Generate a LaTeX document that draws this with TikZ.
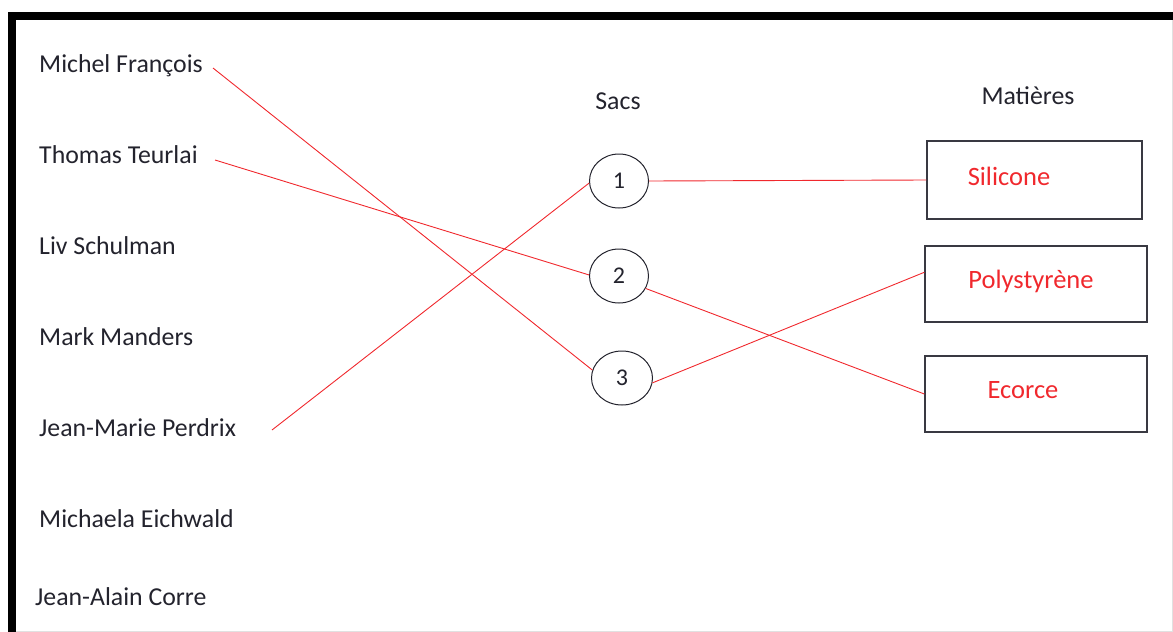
\documentclass[tikz,border=0pt]{standalone}
\usepackage{fontspec}
\setmainfont{Carlito}
\usetikzlibrary{shapes.geometric,calc}
\definecolor{ink}{RGB}{35,35,45}
\definecolor{wire}{RGB}{240,40,45}
\definecolor{edge}{RGB}{225,225,225}
\tikzset{
  artist/.style={anchor=base west,inner sep=0pt,text=ink,font=\fontsize{25.8}{30}\selectfont},
  head/.style={anchor=base,inner sep=0pt,text=ink,font=\fontsize{25.8}{30}\selectfont},
  sac/.style={ellipse,draw=ink,line width=1pt,minimum width=59pt,minimum height=54pt,
    inner sep=0pt,text=ink,font=\fontsize{24}{28}\selectfont},
  matbox/.style={draw=ink!90,line width=1.3pt,minimum width=#1,inner sep=0pt},
  matbox/.default=216pt,
  mattext/.style={anchor=base,inner sep=0pt,text=wire,font=\fontsize{26.5}{30}\selectfont},
  link/.style={draw=wire,line width=0.9pt},
}
\begin{document}
\begin{tikzpicture}[x=1pt,y=-1pt]
  \useasboundingbox (0,0) rectangle (1173,632);
  % frame
  \draw[edge,line width=1pt] (1172,20) -- (1172,631) -- (16,631);
  \draw[black,line width=8pt] (12,632) -- (12,16) -- (1173,16);

  % left column
  \node[artist] (mf) at (39,72) {Michel François};
  \node[artist] (tt) at (39,163) {Thomas Teurlai};
  \node[artist] (ls) at (39,254) {Liv Schulman};
  \node[artist] (mm) at (39,345) {Mark Manders};
  \node[artist] (jmp) at (39,436) {Jean-Marie Perdrix};
  \node[artist] (me) at (39,527) {Michaela Eichwald};
  \node[artist] (jac) at (35,605) {Jean-Alain Corre};
  \coordinate (mf-end) at (213,68);
  \coordinate (tt-end) at (215,160);
  \coordinate (jmp-end) at (272,430);

  % bags
  \node[head] (sacs) at (618,109) {Sacs};
  \node[sac] (s1) at (619,181) {1};
  \node[sac] (s2) at (619,276) {2};
  \node[sac,minimum width=61pt] (s3) at (622,378) {3};

  % materials
  \node[head] (mat) at (1028,104) {Matières};
  \node[matbox=215pt,minimum height=78pt] (sil) at (1034.5,180) {};
  \node[matbox=222pt,minimum height=76pt] (poly) at (1036,284) {};
  \node[matbox=222pt,minimum height=76pt] (eco) at (1036,394) {};
  \node[mattext] (sil-t) at (1009,185) {Silicone};
  \node[mattext] (poly-t) at (1031,288) {Polystyrène};
  \node[mattext] (eco-t) at (1023,398) {Ecorce};

  % links
  \draw[link] (mf-end) -- (s3.165);
  \draw[link] (tt-end) -- (s2.178);
  \draw[link] (jmp-end) -- (s1.184);
  \draw[link] (s1.east) -- (sil.west);
  \draw[link] (s2.-25) -- (eco.west);
  \draw[link] (s3.-9) -- (poly.174);
\end{tikzpicture}
\end{document}
